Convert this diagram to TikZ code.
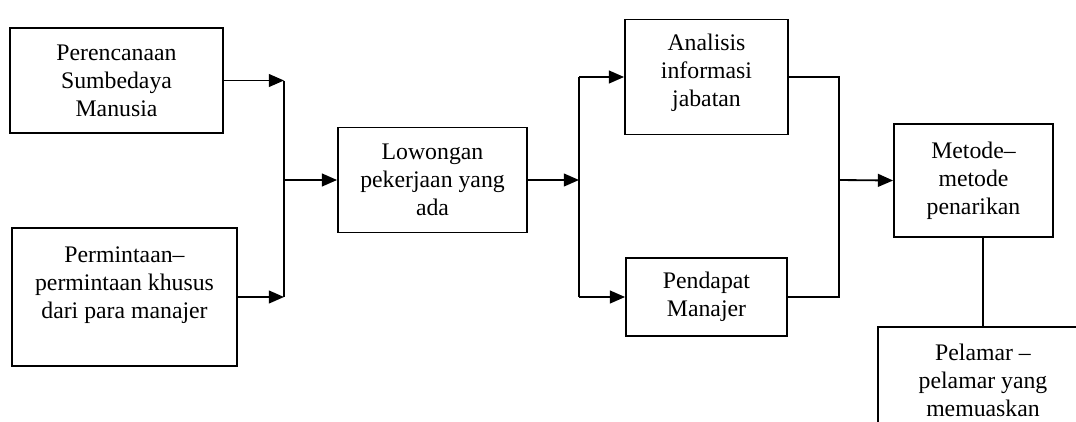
\documentclass[tikz,border=0pt]{standalone}
\usepackage{fontspec}
\setmainfont{Liberation Serif}
\usetikzlibrary{arrows.meta}

\tikzset{kotak/.style={rectangle,draw,line width=1.3pt,inner sep=0pt,align=center,
  font=\fontsize{16.9}{19.9}\selectfont},
  panah/.style={line width=1.3pt,-{Triangle[length=0.38cm,width=0.32cm]}},
  garis/.style={line width=0.8pt}}

\begin{document}
\begin{tikzpicture}[x=0.025cm,y=-0.025cm]
\clip (0,0) rectangle (1076,421);
\node [kotak,minimum width=5.325cm,minimum height=2.625cm] (rencana) at (116.5,80.5)
  {Perencanaan\\Sumbedaya\\Manusia};
\node [kotak,minimum width=5.625cm,minimum height=3.45cm] (minta) at (124.5,297)
  {Permintaan–\\permintaan khusus\\dari para manajer\\~};
\node [kotak,minimum width=4.725cm,minimum height=2.625cm] (lowongan) at (432.5,180)
  {Lowongan\\pekerjaan yang\\ada};
\node [kotak,minimum width=4.075cm,minimum height=2.875cm,text depth=9pt] (analisis) at (706.5,77)
  {Analisis\\informasi\\jabatan};
\node [kotak,minimum width=4.025cm,minimum height=1.95cm] (pendapat) at (706.5,297)
  {Pendapat\\Manajer};
\node [kotak,minimum width=3.975cm,minimum height=2.825cm] (metode) at (973.5,180.5)
  {Metode–\\metode\\penarikan};
\node [kotak,minimum width=5.25cm,minimum height=2.65cm] (pelamar) at (983,380)
  {Pelamar –\\pelamar yang\\memuaskan};

\coordinate (j1) at (284,180);
\coordinate (j2) at (579,180);
\coordinate (j3) at (839,180);

\draw [panah] (rencana.east) -- (rencana.east -| j1);
\draw [panah] (minta.east) -- (minta.east -| j1);
\draw [line width=1.3pt] (rencana.east -| j1) -- (minta.east -| j1);
\draw [panah] (j1) -- (lowongan.west);
\draw [panah] (lowongan.east) -- (j2);
\draw [line width=1.3pt] (j2 |- analisis.west) -- (j2 |- pendapat.west);
\draw [panah] (j2 |- analisis.west) -- (analisis.west);
\draw [panah] (j2 |- pendapat.west) -- (pendapat.west);
\draw [garis] (analisis.east) -- (j3 |- analisis.east) -- (j3 |- pendapat.east) -- (pendapat.east);
\draw [panah] (j3) -- (metode.west);
\draw [garis] (pelamar.north |- metode.south) -- (pelamar.north);
\end{tikzpicture}
\end{document}
